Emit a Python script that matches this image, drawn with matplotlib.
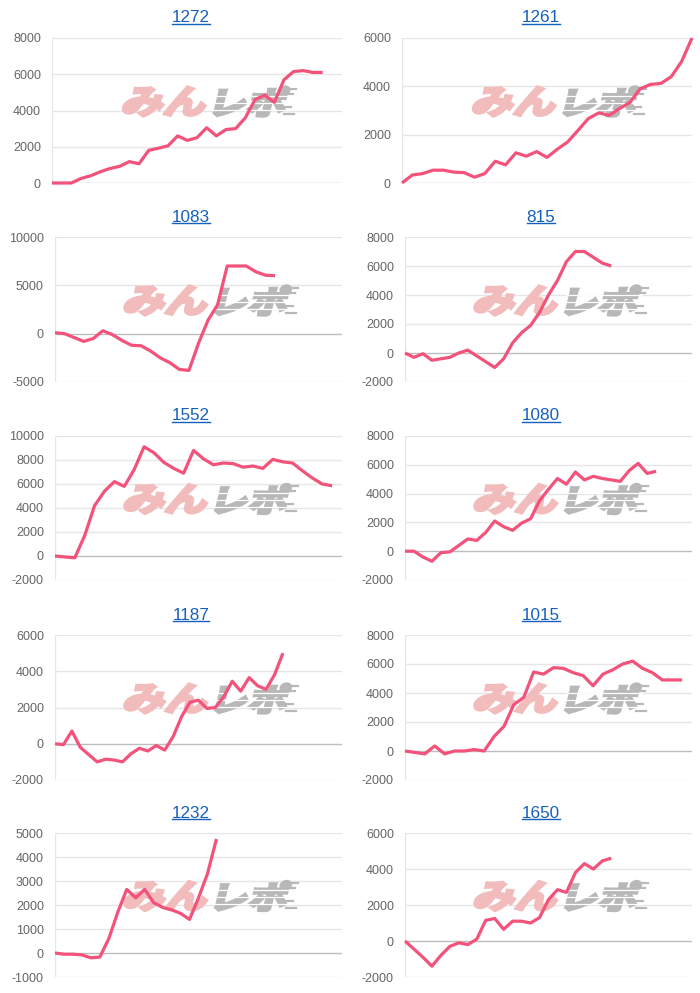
import matplotlib
matplotlib.use("Agg")
import matplotlib.pyplot as plt
import matplotlib.transforms as mtransforms
from matplotlib.textpath import TextPath
from matplotlib.patches import PathPatch
from matplotlib.font_manager import FontProperties
from matplotlib.lines import Line2D

# machine numbers (chart titles)
names = ['1272', '1261', '1083', '815', '1552', '1080', '1187', '1015', '1232', '1650']

# daily differential per machine
s1272 = [0, 0, 0, 250, 400, 620, 800, 920, 1180, 1060, 1800, 1920, 2050, 2600, 2350,
         2500, 3050, 2600, 2950, 3000, 3600, 4600, 4850, 4450, 5700, 6150, 6200, 6100, 6100]
s1261 = [0, 330, 390, 530, 530, 450, 430, 240, 390, 900, 750, 1250, 1110, 1300, 1060,
         1400, 1700, 2180, 2670, 2900, 2800, 3080, 3330, 3900, 4080, 4120, 4400, 5030, 6000]
s1083 = [100, 0, -400, -800, -500, 300, -100, -700, -1200, -1250, -1800, -2500, -3000,
         -3700, -3800, -1000, 1400, 3000, 7000, 7000, 7000, 6400, 6050, 6000]
s815 = [0, -300, -50, -500, -400, -300, 0, 200, -200, -600, -1000, -400, 700, 1400,
        1900, 2800, 4000, 5000, 6300, 7000, 7000, 6600, 6200, 6000]
s1552 = [0, -80, -150, 1700, 4200, 5400, 6200, 5800, 7200, 9100, 8600, 7800, 7300, 6900,
         8800, 8100, 7600, 7750, 7700, 7400, 7500, 7300, 8050, 7850, 7750, 7100, 6500, 6000, 5850]
s1080 = [0, 0, -400, -700, -100, -50, 400, 850, 750, 1300, 2100, 1700, 1450, 1950, 2250,
         3500, 4300, 5050, 4650, 5500, 4950, 5200, 5050, 4950, 4850, 5600, 6100, 5400, 5550]
s1187 = [0, -50, 700, -200, -600, -1000, -850, -900, -1000, -550, -250, -400, -100, -350,
         400, 1500, 2300, 2400, 1950, 2000, 2600, 3450, 2900, 3650, 3200, 3000, 3800, 5000]
s1015 = [0, -100, -200, 350, -200, 0, 0, 100, 0, 1000, 1700, 3200, 3700, 5450, 5300, 5750,
         5700, 5400, 5200, 4500, 5300, 5600, 6000, 6200, 5700, 5400, 4900, 4900, 4900]
s1232 = [0, -50, -50, -80, -200, -170, 600, 1700, 2650, 2300, 2650, 2100, 1900, 1800,
         1650, 1400, 2300, 3300, 4750]
s1650 = [0, -450, -900, -1400, -800, -300, -100, -200, 100, 1150, 1250, 650, 1100, 1100,
         1000, 1300, 2300, 2850, 2700, 3800, 4300, 4000, 4450, 4600]
series = [s1272, s1261, s1083, s815, s1552, s1080, s1187, s1015, s1232, s1650]

# number of x labels on each chart
n_labels = [31, 29, 31, 33, 30, 33, 35, 30, 33, 33]

# y ticks of each chart
yticks = [
    [0, 2000, 4000, 6000, 8000],
    [0, 2000, 4000, 6000],
    [-5000, 0, 5000, 10000],
    [-2000, 0, 2000, 4000, 6000, 8000],
    [-2000, 0, 2000, 4000, 6000, 8000, 10000],
    [-2000, 0, 2000, 4000, 6000, 8000],
    [-2000, 0, 2000, 4000, 6000],
    [-2000, 0, 2000, 4000, 6000, 8000],
    [-1000, 0, 1000, 2000, 3000, 4000, 5000],
    [-2000, 0, 2000, 4000, 6000],
]

W, H = 700, 993
LINE = '#f3527a'
GRID = '#e6e6e6'
ZERO = '#bdbdbd'
TITLE = '#1560bd'
PINK = '#f2bcbc'
GRAY = '#b8b8b8'

fig = plt.figure(figsize=(W / 100, H / 100), dpi=100)
fig.patch.set_facecolor('white')

row_top = [38, 237, 436, 635, 833]
row_bot = [183, 382, 580, 780, 977]
col_base = [52, 402]
col_right = [342, 692]
title_x = [191, 541]

fp_logo = FontProperties(family='Noto Sans CJK JP', weight='bold')
IDT = mtransforms.IdentityTransform()


def word(ax, text, x0, y0, w, h, color, skew=14):
    # text as a path, squeezed into a w x h box (display px), slanted and fattened
    tp = TextPath((0, 0), text, size=20, prop=fp_logo)
    ext = tp.get_extents()
    tr = (mtransforms.Affine2D()
          .translate(-ext.x0, -ext.y0)
          .scale((w - 3) / ext.width, (h - 3) / ext.height)
          .skew_deg(skew, 0)
          .translate(x0 + 1.5, y0 + 1.5))
    p = PathPatch(tr.transform_path(tp), fc=color, ec=color, lw=2.4,
                  joinstyle='miter', transform=IDT, zorder=1)
    ax.add_artist(p)


def logo(ax, cx, cy):
    # cx, cy: centre in display px
    h = 32
    x0 = cx - 90
    y0 = cy - h / 2
    word(ax, 'みん', x0, y0, 84, h, PINK)
    word(ax, 'レポ', x0 + 92, y0, 72, h, GRAY)
    # speed streaks through the gray part
    for dy in [8, 15, 22]:
        ax.add_artist(Line2D([x0 + 90 + dy * 0.25, x0 + 170], [y0 + dy, y0 + dy],
                             color='white', lw=0.9, zorder=1.1, transform=IDT))
    for dy, L in [(29, 12), (24, 9), (11, 7), (4, 10)]:
        ax.add_artist(Line2D([x0 + 164, x0 + 164 + L], [y0 + dy, y0 + dy],
                             color=GRAY, lw=1.6, zorder=1, transform=IDT))


titles = []
for k, (name, vals) in enumerate(zip(names, series)):
    r, c = divmod(k, 2)
    ticks = yticks[k]
    widest = max(len(str(t)) for t in ticks)
    left = col_base[c] + (3 if widest >= 5 else 0)
    top, bot = row_top[r], row_bot[r]
    ax = fig.add_axes([left / W, 1 - bot / H, (col_right[c] - left) / W, (bot - top) / H])

    for t in ticks:
        ax.axhline(t, color=ZERO if t == 0 else GRID, lw=1, zorder=0.5)
    ax.axvline(0, color=GRID, lw=1, zorder=0.5)

    ax.plot(range(len(vals)), vals, color=LINE, lw=2.3, solid_joinstyle='round',
            solid_capstyle='butt', zorder=3, clip_on=False)

    ax.set_xlim(0, n_labels[k] - 1)
    ax.set_ylim(ticks[0], ticks[-1])
    ax.set_xticks([])
    ax.set_yticks(ticks)
    ax.set_yticklabels([str(t) for t in ticks], fontfamily='Liberation Sans')
    ax.tick_params(axis='y', length=0, pad=8, labelsize=9, labelcolor='#666666')
    for s in ax.spines.values():
        s.set_visible(False)
    ax.set_facecolor('none')

    # watermark, slightly right of and above the plot centre
    cx = (left + col_right[c]) / 2 + 13
    cy = H - ((top + bot) / 2 - 9)
    logo(ax, cx, cy)

    t = fig.text(title_x[c] / W, 1 - (top - 20) / H, name, ha='center', va='center',
                 color=TITLE, fontsize=12.3, fontfamily='Liberation Sans')
    titles.append(t)

# underline the titles (they are links)
fig.canvas.draw()
rend = fig.canvas.get_renderer()
for t in titles:
    bb = t.get_window_extent(rend)
    y = bb.y0 + 1.5
    fig.add_artist(Line2D([bb.x0 / W, bb.x1 / W], [y / H, y / H], color=TITLE, lw=1,
                          transform=fig.transFigure))

fig.savefig('out.png', dpi=100, facecolor='white')
